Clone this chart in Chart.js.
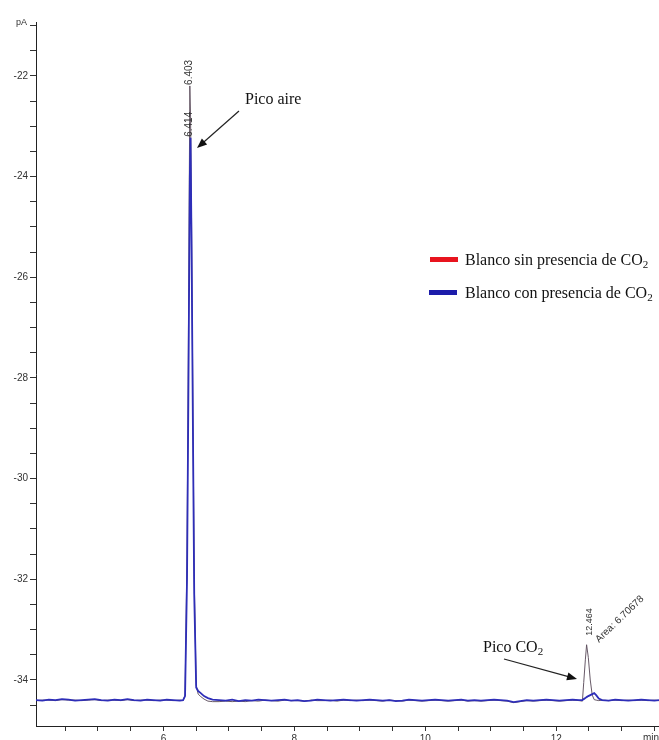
<!DOCTYPE html>
<html lang="es">
<head>
<meta charset="UTF-8">
<title>Blanco con y sin CO2</title>
<script src="https://cdn.jsdelivr.net/npm/chart.js"></script>
<style>
  body { margin: 0; background: #fff; }
  canvas { display: block; }
</style>
</head>
<body>
<canvas id="chromChart" width="659" height="740"></canvas>
<script>
// retention time (min)
const times = [
  4.05, 4.15, 4.25, 4.35, 4.45, 4.55, 4.65, 4.75, 4.85, 4.95,
  5.05, 5.15, 5.25, 5.35, 5.45, 5.55, 5.65, 5.75, 5.85, 5.95,
  6.05, 6.15, 6.25, 6.30, 6.33, 6.36, 6.38, 6.403, 6.414, 6.43,
  6.45, 6.47, 6.50, 6.53, 6.57, 6.62, 6.68, 6.75, 6.85, 6.95,
  7.05, 7.15, 7.25, 7.35, 7.45, 7.55, 7.65, 7.75, 7.85, 7.95,
  8.05, 8.15, 8.25, 8.35, 8.45, 8.55, 8.65, 8.75, 8.85, 8.95,
  9.05, 9.15, 9.25, 9.35, 9.45, 9.55, 9.65, 9.75, 9.85, 9.95,
  10.05, 10.15, 10.25, 10.35, 10.45, 10.55, 10.65, 10.75, 10.85, 10.95,
  11.05, 11.15, 11.25, 11.35, 11.45, 11.55, 11.65, 11.75, 11.85, 11.95,
  12.05, 12.15, 12.25, 12.35, 12.40, 12.42, 12.445, 12.464, 12.49, 12.52,
  12.55, 12.58, 12.61, 12.65, 12.70, 12.80, 12.90, 13.00, 13.10, 13.20,
  13.30, 13.40, 13.50, 13.57
];

// signal (pA) - blank without CO2
const blancoSin = [
  -34.41, -34.40, -34.40, -34.41, -34.39, -34.40, -34.40, -34.41, -34.40, -34.39,
  -34.41, -34.40, -34.40, -34.41, -34.39, -34.41, -34.40, -34.40, -34.41, -34.40,
  -34.40, -34.41, -34.40, -34.41, -34.30, -31.50, -27.50, -22.20, -22.80, -25.00,
  -28.60, -32.00, -34.10, -34.28, -34.33, -34.38, -34.42, -34.43, -34.43, -34.42,
  -34.43, -34.42, -34.43, -34.41, -34.42, -34.40, -34.41, -34.42, -34.40, -34.41,
  -34.41, -34.42, -34.40, -34.41, -34.41, -34.40, -34.42, -34.40, -34.41, -34.40,
  -34.41, -34.40, -34.41, -34.42, -34.40, -34.41, -34.42, -34.40, -34.41, -34.42,
  -34.41, -34.40, -34.41, -34.42, -34.41, -34.40, -34.42, -34.41, -34.42, -34.41,
  -34.40, -34.41, -34.42, -34.45, -34.43, -34.41, -34.42, -34.41, -34.40, -34.41,
  -34.42, -34.41, -34.40, -34.41, -34.42, -34.05, -33.60, -33.30, -33.55, -34.00,
  -34.30, -34.39, -34.40, -34.41, -34.40, -34.41, -34.40, -34.41, -34.40, -34.41,
  -34.40, -34.41, -34.40, -34.41
];

// signal (pA) - blank with CO2
const blancoCon = [
  -34.40, -34.41, -34.39, -34.40, -34.38, -34.39, -34.41, -34.40, -34.39, -34.38,
  -34.40, -34.41, -34.39, -34.40, -34.38, -34.40, -34.41, -34.39, -34.40, -34.41,
  -34.39, -34.40, -34.41, -34.40, -34.32, -32.00, -28.50, -24.00, -23.23, -25.50,
  -29.00, -32.30, -34.15, -34.22, -34.26, -34.32, -34.36, -34.39, -34.40, -34.41,
  -34.39, -34.42, -34.40, -34.41, -34.39, -34.40, -34.41, -34.40, -34.39, -34.41,
  -34.40, -34.42, -34.41, -34.39, -34.40, -34.41, -34.40, -34.39, -34.40, -34.41,
  -34.40, -34.39, -34.40, -34.41, -34.40, -34.42, -34.41, -34.39, -34.40, -34.41,
  -34.40, -34.39, -34.40, -34.41, -34.40, -34.39, -34.41, -34.40, -34.41, -34.40,
  -34.39, -34.40, -34.41, -34.44, -34.42, -34.40, -34.41, -34.40, -34.39, -34.40,
  -34.41, -34.40, -34.39, -34.40, -34.40, -34.38, -34.36, -34.34, -34.32, -34.30,
  -34.28, -34.26, -34.30, -34.37, -34.40, -34.41, -34.39, -34.40, -34.41, -34.40,
  -34.39, -34.40, -34.41, -34.40
];

const seriesNames = ["Blanco sin presencia de CO", "Blanco con presencia de CO"];
const legendColors = ["#e8141e", "#1c1caa"];
const peakLabels = [
  { text: "6.403", x: 6.403, y: -22.20, gap: 1 },
  { text: "6.414", x: 6.414, y: -23.23, gap: 1 }
];

const serif = "'Liberation Serif', 'Times New Roman', serif";
const sans = "'Liberation Sans', Arial, sans-serif";

function arrow(ctx, x1, y1, x2, y2) {
  const ang = Math.atan2(y2 - y1, x2 - x1);
  const len = 10, half = 4;
  ctx.strokeStyle = "#222";
  ctx.fillStyle = "#111";
  ctx.lineWidth = 1.2;
  ctx.beginPath();
  ctx.moveTo(x1, y1);
  ctx.lineTo(x2 - Math.cos(ang) * len * 0.8, y2 - Math.sin(ang) * len * 0.8);
  ctx.stroke();
  ctx.beginPath();
  ctx.moveTo(x2, y2);
  ctx.lineTo(x2 - Math.cos(ang) * len - Math.sin(ang) * half, y2 - Math.sin(ang) * len + Math.cos(ang) * half);
  ctx.lineTo(x2 - Math.cos(ang) * len + Math.sin(ang) * half, y2 - Math.sin(ang) * len - Math.cos(ang) * half);
  ctx.closePath();
  ctx.fill();
}

// text with a subscript "2" at the end
function co2Text(ctx, text, x, y) {
  ctx.font = "16px " + serif;
  ctx.textBaseline = "alphabetic";
  ctx.textAlign = "left";
  ctx.fillStyle = "#111";
  ctx.fillText(text, x, y);
  const w = ctx.measureText(text).width;
  ctx.font = "11px " + serif;
  ctx.fillText("2", x + w, y + 3);
}

const annotations = {
  id: "annotations",
  afterDatasetsDraw(chart) {
    const ctx = chart.ctx;
    const xs = chart.scales.x, ys = chart.scales.y;
    ctx.save();

    // retention time labels, vertical
    ctx.fillStyle = "#333";
    ctx.textBaseline = "middle";
    ctx.textAlign = "left";
    peakLabels.forEach(p => {
      ctx.save();
      ctx.translate(xs.getPixelForValue(p.x) - 1, ys.getPixelForValue(p.y) - p.gap);
      ctx.rotate(-Math.PI / 2);
      ctx.font = "10px " + sans;
      ctx.fillText(p.text, 0, 0);
      ctx.restore();
    });
    ctx.save();
    ctx.translate(xs.getPixelForValue(12.464) + 3, ys.getPixelForValue(-33.30) - 9);
    ctx.rotate(-Math.PI / 2);
    ctx.font = "9px " + sans;
    ctx.fillText("12.464", 0, 0);
    ctx.restore();
    ctx.save();
    ctx.translate(597, 641);
    ctx.rotate(-Math.PI / 4.1);
    ctx.font = "10px " + sans;
    ctx.fillText("Area: 6.70678", 0, 0);
    ctx.restore();

    // peak names
    ctx.font = "16px " + serif;
    ctx.fillStyle = "#111";
    ctx.textBaseline = "alphabetic";
    ctx.fillText("Pico aire", 245, 104);
    arrow(ctx, 239, 111, 197, 148);
    co2Text(ctx, "Pico CO", 483, 652);
    arrow(ctx, 504, 659, 577, 679);

    // legend
    ctx.fillStyle = legendColors[0];
    ctx.fillRect(430, 257, 28, 5);
    ctx.fillStyle = legendColors[1];
    ctx.fillRect(429, 290, 28, 5);
    co2Text(ctx, seriesNames[0], 465, 265);
    co2Text(ctx, seriesNames[1], 465, 298);

    // axis units
    ctx.fillStyle = "#333";
    ctx.font = "9px " + sans;
    ctx.textBaseline = "middle";
    ctx.fillText("pA", 16, 23);
    ctx.font = "10px " + sans;
    ctx.textBaseline = "top";
    ctx.fillText("min", 643, 733);
    ctx.restore();
  }
};

new Chart(document.getElementById("chromChart"), {
  type: "line",
  data: {
    datasets: [
      {
        label: seriesNames[0],
        data: times.map((t, i) => ({ x: t, y: blancoSin[i] })),
        borderColor: "rgba(95, 80, 95, 0.95)",
        borderWidth: 1,
        pointRadius: 0,
        tension: 0,
        order: 1
      },
      {
        label: seriesNames[1],
        data: times.map((t, i) => ({ x: t, y: blancoCon[i] })),
        borderColor: "#2e2eb8",
        borderWidth: 1.8,
        pointRadius: 0,
        tension: 0,
        order: 0
      }
    ]
  },
  options: {
    responsive: false,
    animation: false,
    devicePixelRatio: 1,
    layout: { padding: { top: 22, right: 0, bottom: 0, left: 0 } },
    plugins: { legend: { display: false }, tooltip: { enabled: false } },
    scales: {
      x: {
        type: "linear",
        min: 4.053,
        max: 13.57,
        border: { color: "#222", width: 1 },
        grid: { drawOnChartArea: false, drawTicks: true, tickLength: 5, color: "#333" },
        ticks: {
          stepSize: 0.5,
          includeBounds: false,
          autoSkip: false,
          maxRotation: 0,
          padding: 2,
          color: "#333",
          font: { family: sans, size: 10 },
          callback: v => (v % 2 === 0 && v >= 6 ? String(v) : "")
        },
        afterFit: s => { s.height = 14; }
      },
      y: {
        type: "linear",
        min: -34.914,
        max: -20.93,
        border: { color: "#222", width: 1 },
        grid: { drawOnChartArea: false, drawTicks: true, tickLength: 6, color: "#333" },
        ticks: {
          stepSize: 0.5,
          includeBounds: false,
          autoSkip: false,
          padding: 2,
          color: "#333",
          font: { family: sans, size: 10 },
          callback: v => (v % 2 === 0 ? String(v) : "")
        },
        afterFit: s => { s.width = 36; }
      }
    }
  },
  plugins: [annotations]
});
</script>
</body>
</html>
